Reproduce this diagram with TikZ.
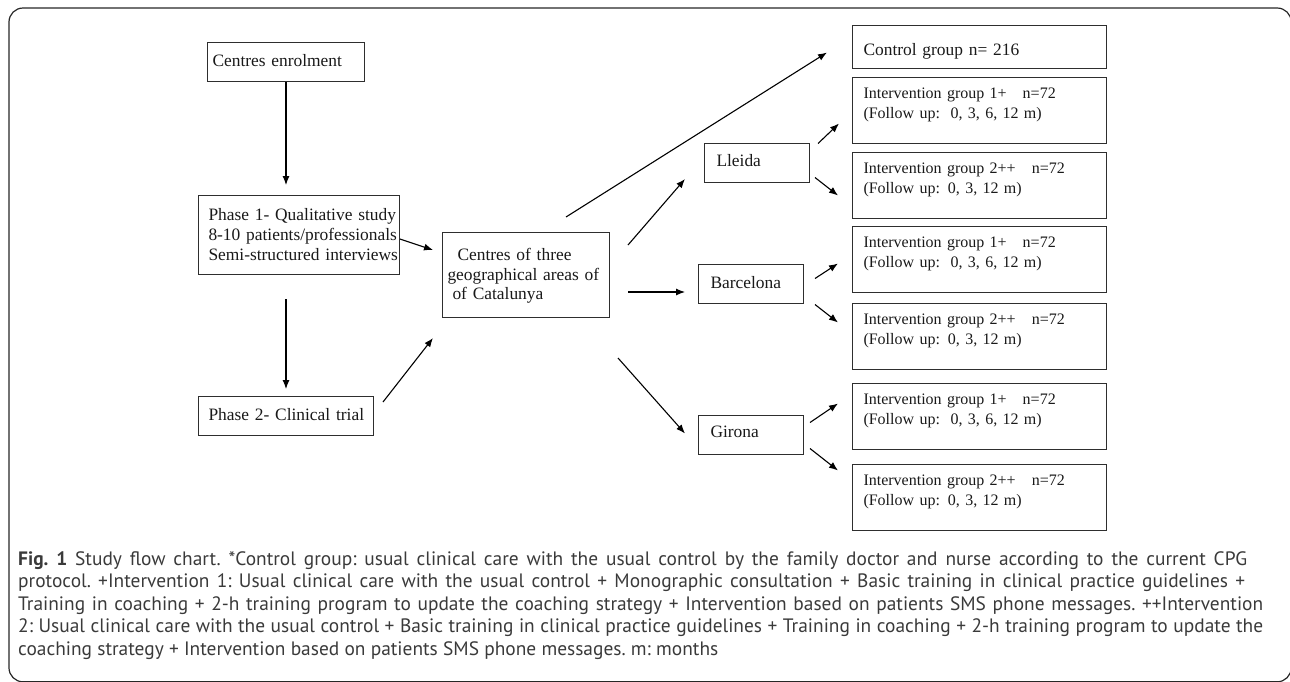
\documentclass[tikz,border=0pt]{standalone}
\usepackage{fontspec}
\setmainfont{Liberation Serif}
\newfontfamily\capfont{PT Sans}
\usepackage{tikz}
\usetikzlibrary{calc, arrows.meta}
\definecolor{boxLine}{HTML}{2E2E2E}
\definecolor{capText}{HTML}{3A3A3A}

\begin{document}
\begin{tikzpicture}[x=1pt, y=-1pt,
    box/.style={draw=boxLine, line width=1pt, anchor=north west, align=left,
        inner ysep=0pt, text=black!90, font=\fontsize{17.4}{20}\selectfont},
    city/.style={box, inner xsep=12pt, text width=81},
    grp/.style={box, inner xsep=11pt, text width=232, text height=21, text depth=45,
        font=\fontsize{16}{20}\selectfont},
    flow/.style={-{Latex[length=9pt,width=7pt]}, line width=1.1pt}]
    \useasboundingbox (0,0) rectangle (1290,681);
    \draw[line width=1.2pt, rounded corners=14pt, black!85]
        (9,8) rectangle (1291.2,681.8);
    % left column
    \node[box, inner xsep=5pt, text width=147, text height=24, text depth=15] (enrol) at (207,42)
        {Centres enrolment};
    \node[box, inner xsep=10pt, text width=181, text height=25, text depth=54] (ph1) at (198,195)
        {\mbox{Phase 1- Qualitative study}\\\mbox{8-10 patients/professionals}\\\mbox{Semi-structured interviews}};
    \node[box, inner xsep=10pt, text width=155, text height=24, text depth=15] (ph2) at (198,396)
        {\mbox{Phase 2- Clinical trial}};
    \node[box, inner xsep=5pt, text width=157, text height=28, text depth=57,
        font=\fontsize{17.4}{19.5}\selectfont] (ctr) at (442,232)
        {\hspace*{10pt}Centres of three\\\mbox{geographical areas of}\\\hspace*{5pt}of Catalunya};
    % cities
    \node[city, text height=23, text depth=16] (lle) at (704,143) {Lleida};
    \node[city, text height=24, text depth=15] (bcn) at (698,264) {Barcelona};
    \node[city, text height=22, text depth=17] (gir) at (698,415) {Girona};
    % groups
    \node[box, inner xsep=11pt, text width=232, text height=30, text depth=13] (ctl) at (852,25)
        {Control group n= 216};
    \foreach \n/\y in {igA/77, igC/226, igE/383}
        \node[grp] (\n) at (852,\y)
            {Intervention group 1+\ \ \ n=72\\(Follow up:\ \ 0, 3, 6, 12 m)};
    \foreach \n/\y in {igB/152, igD/303, igF/464}
        \node[grp] (\n) at (852,\y)
            {Intervention group 2++\ \ \ n=72\\(Follow up: 0, 3, 12 m)};
    % arrows
    \draw[flow, shorten >=10pt] (enrol.south) -- (enrol.south |- ph1.north);
    \draw[flow, shorten <=24pt, shorten >=7pt] (ph2.north |- ph1.south) -- (ph2.north);
    \draw[flow] ($(ph1.east)+(0,4)$) -- ($(ctr.north west)+(-9,18)$);
    \draw[flow] ($(ph2.north east)+(9,6)$) -- ($(ctr.south west)+(-9,20)$);
    \draw[flow] ($(ctr.north)+(40,-15)$) -- ($(ctl.west)+(-25,5.5)$);
    \draw[flow] ($(ctr.north east)+(18,13)$) -- ($(lle.south west)+(-19,-4)$);
    \draw[flow] ($(ctr.south east)+(18,-26)$) -- ($(bcn.south west)+(-13,-12)$);
    \draw[flow] ($(ctr.south east)+(8,40)$) -- ($(gir.west)+(-13,-1.5)$);
    \draw[flow] ($(lle.east)+(8,-19.5)$) -- ($(igA.west)+(-13,13)$);
    \draw[flow] ($(lle.east)+(5,14.5)$) -- ($(igB.west)+(-14,10)$);
    \draw[flow] ($(bcn.east)+(11,-5.5)$) -- ($(igC.west)+(-14,4)$);
    \draw[flow] ($(bcn.east)+(11,20.5)$) -- ($(igD.west)+(-14,-14)$);
    \draw[flow] ($(gir.east)+(6,-12.5)$) -- ($(igE.west)+(-14,-13)$);
    \draw[flow] ($(gir.east)+(6,13.5)$) -- ($(igF.west)+(-14,-27)$);
    % caption
    \node[anchor=base west, text width=1400, align=left, inner sep=0pt, text=capText,
        font=\capfont\fontsize{19.4}{22.5}\selectfont] (cap) at (18,565)
        {\frenchspacing\spaceskip=0.27em plus 0.3em minus 0.14em\relax
        \makebox[1229pt][s]{\textbf{Fig. 1} Study flow chart. *Control group: usual clinical care with the usual control by the family doctor and nurse according to the current CPG}\\
        \makebox[1227pt][s]{protocol. +Intervention 1: Usual clinical care with the usual control + Monographic consultation + Basic training in clinical practice guidelines +}\\
        \makebox[1245pt][s]{Training in coaching + 2-h training program to update the coaching strategy + Intervention based on patients SMS phone messages. ++Intervention}\\
        \makebox[1245pt][s]{2: Usual clinical care with the usual control + Basic training in clinical practice guidelines + Training in coaching + 2-h training program to update the}\\
        coaching strategy + Intervention based on patients SMS phone messages. m: months};
\end{tikzpicture}
\end{document}
